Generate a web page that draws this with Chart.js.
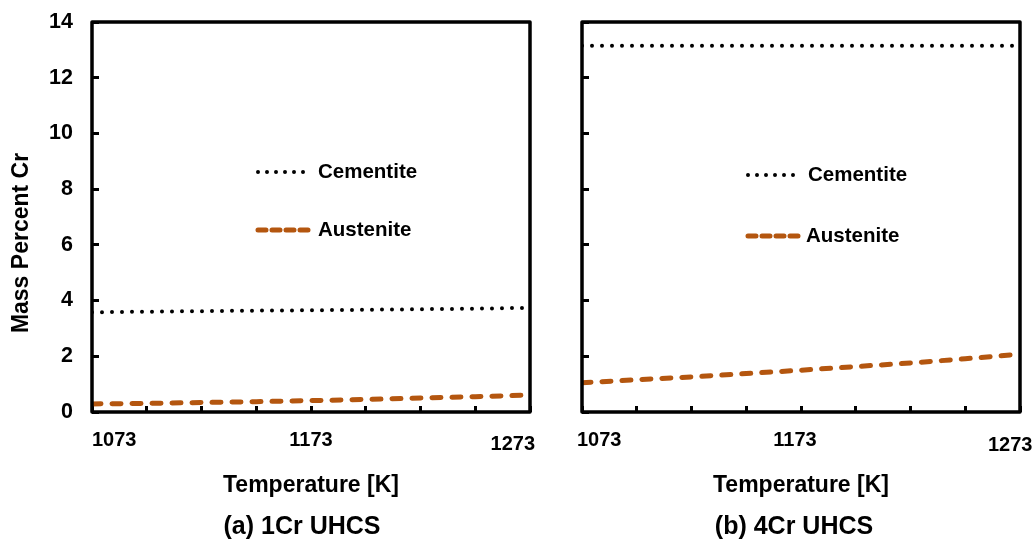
<!DOCTYPE html>
<html>
<head>
<meta charset="utf-8">
<script src="https://cdn.jsdelivr.net/npm/chart.js@4.4.0/dist/chart.umd.min.js"></script>
<style>
  body { margin: 0; background: #fff; }
  #wrap { position: relative; width: 1034px; height: 545px; }
  .panel { position: absolute; top: 0; height: 545px; }
</style>
</head>
<body>
<div id="wrap">
  <div class="panel" style="left:0;width:545px"><canvas id="chart1"></canvas></div>
  <div class="panel" style="left:545px;width:489px"><canvas id="chart2"></canvas></div>
</div>
<script>
// temperatures (K) where the curves were read
const temps = [1073, 1098, 1123, 1148, 1173, 1198, 1223, 1248, 1273];
const tempLabels = [1073, 1173, 1273];

// mass percent Cr, (a) 1Cr UHCS
const cem1Cr = [3.58, 3.60, 3.62, 3.64, 3.65, 3.67, 3.69, 3.71, 3.74];
const aus1Cr = [0.29, 0.31, 0.34, 0.37, 0.41, 0.45, 0.50, 0.55, 0.61];
// mass percent Cr, (b) 4Cr UHCS
const cem4Cr = [13.15, 13.15, 13.15, 13.15, 13.15, 13.15, 13.15, 13.15, 13.15];
const aus4Cr = [1.05, 1.16, 1.26, 1.38, 1.50, 1.63, 1.76, 1.91, 2.08];

const seriesNames = ['Cementite', 'Austenite'];
const FONT = '"Liberation Sans", Arial, sans-serif';

Chart.defaults.font.family = FONT;
Chart.defaults.font.weight = 'bold';
Chart.defaults.color = '#000';

const pts = arr => temps.map((t, i) => ({ x: t, y: arr[i] }));

// frame, x tick labels, legend, y title and panel caption
const panelDecor = {
  id: 'panelDecor',
  afterDraw(chart, args, opts) {
    const { ctx, chartArea: a, scales } = chart;
    ctx.save();
    ctx.lineWidth = 3.5;
    ctx.strokeStyle = '#000';
    ctx.lineJoin = 'round';
    ctx.strokeRect(a.left, a.top, a.right - a.left, a.bottom - a.top);

    ctx.fillStyle = '#000';
    ctx.font = 'bold 20px ' + FONT;
    ctx.textBaseline = 'middle';
    tempLabels.forEach((t, i) => {
      const p = opts.xLabels[i];
      ctx.textAlign = p.align;
      ctx.fillText(String(t), scales.x.getPixelForValue(t) + p.dx, p.y);
    });

    // legend
    ctx.font = 'bold 20.5px ' + FONT;
    chart.data.datasets.forEach((ds, i) => {
      const y = opts.legendY[i];
      const x0 = a.left + 166;
      ctx.beginPath();
      ctx.strokeStyle = ds.borderColor;
      ctx.lineWidth = ds.borderWidth;
      ctx.lineCap = ds.borderCapStyle;
      ctx.setLineDash(opts.legendDash[i]);
      ctx.moveTo(x0, y);
      ctx.lineTo(x0 + 52, y);
      ctx.stroke();
      ctx.setLineDash([]);
      ctx.textAlign = 'left';
      ctx.fillText(ds.label, a.left + opts.legendTextX[i], y);
    });

    // caption under the panel
    ctx.textAlign = 'center';
    ctx.font = 'bold 25px ' + FONT;
    ctx.fillText(opts.caption, (a.left + a.right) / 2 + opts.captionDx, 527);

    if (opts.yTitle) {
      ctx.translate(22, 243);
      ctx.rotate(-Math.PI / 2);
      ctx.font = 'bold 23px ' + FONT;
      ctx.fillText(opts.yTitle, 0, 0);
    }
    ctx.restore();
  }
};

function makePanel(id, cem, aus, yWidth, showYLabels, decor, padRight) {
  return new Chart(document.getElementById(id), {
    type: 'line',
    data: {
      datasets: [
        {
          label: seriesNames[0],
          data: pts(cem),
          borderColor: '#000',
          borderWidth: 4,
          borderDash: [0, 10],
          borderCapStyle: 'round',
          pointRadius: 0,
          fill: false
        },
        {
          label: seriesNames[1],
          data: pts(aus),
          borderColor: '#B4560F',
          borderWidth: 5,
          borderDash: [9, 11],
          borderCapStyle: 'round',
          pointRadius: 0,
          fill: false
        }
      ]
    },
    options: {
      responsive: true,
      maintainAspectRatio: false,
      animation: false,
      layout: { padding: { left: 0, right: padRight, top: 22, bottom: 5 } },
      plugins: {
        legend: { display: false },
        tooltip: { enabled: false },
        title: { display: false },
        panelDecor: decor
      },
      scales: {
        x: {
          type: 'linear',
          min: 1073,
          max: 1273,
          afterBuildTicks: s => { s.ticks = temps.map(v => ({ value: v })); },
          afterFit: s => { s.height = 128; s.paddingLeft = 0; s.paddingRight = 0; },
          ticks: { display: false },
          border: { display: false },
          grid: { drawOnChartArea: false, color: '#000', tickLength: -6, tickWidth: 3 },
          title: {
            display: true,
            text: 'Temperature [K]',
            font: { size: 23, weight: 'bold' },
            padding: { top: 0, bottom: 41 },
            color: '#000'
          }
        },
        y: {
          min: 0,
          max: 14,
          afterFit: s => { s.width = yWidth; s.paddingTop = 0; s.paddingBottom = 0; },
          ticks: { display: showYLabels, stepSize: 2, padding: 26, font: { size: 21.5, weight: 'bold' }, color: '#000' },
          border: { display: false },
          grid: { drawOnChartArea: false, color: '#000', tickLength: -7, tickWidth: 3 }
        }
      }
    },
    plugins: [panelDecor]
  });
}

makePanel('chart1', cem1Cr, aus1Cr, 92, true, {
  xLabels: [
    { align: 'left', dx: 0, y: 440 },
    { align: 'center', dx: 0, y: 440 },
    { align: 'right', dx: 5, y: 444 }
  ],
  legendY: [172, 230],
  legendTextX: [226, 226],
  legendDash: [[0, 9], [8, 6]],
  caption: '(a) 1Cr UHCS',
  captionDx: -9,
  yTitle: 'Mass Percent Cr'
}, 15);

makePanel('chart2', cem4Cr, aus4Cr, 37, false, {
  xLabels: [
    { align: 'left', dx: -5, y: 440 },
    { align: 'center', dx: -6, y: 440 },
    { align: 'left', dx: -32, y: 445 }
  ],
  legendY: [175, 236],
  legendTextX: [226, 224],
  legendDash: [[0, 9], [8, 6]],
  caption: '(b) 4Cr UHCS',
  captionDx: -7,
  yTitle: null
}, 14);
</script>
</body>
</html>
